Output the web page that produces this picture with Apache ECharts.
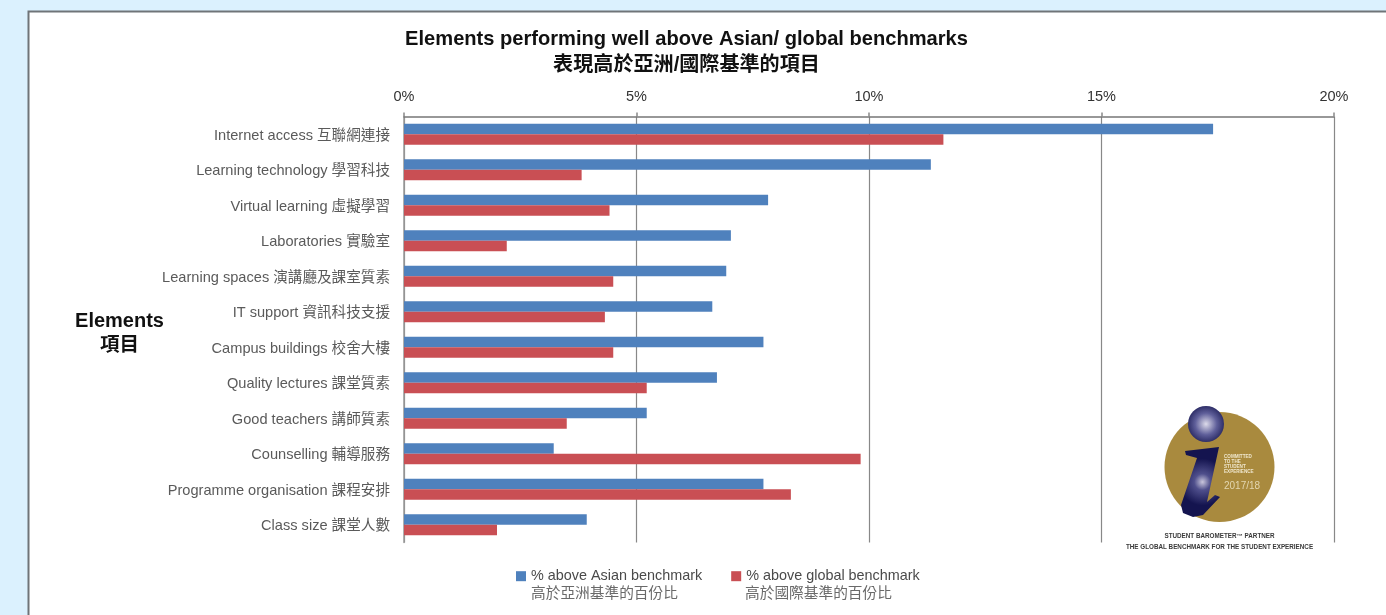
<!DOCTYPE html>
<html><head><meta charset="utf-8">
<style>html,body{margin:0;padding:0;background:#dbf1fe}#c{width:1386px;height:615px}</style>
<script src="https://cdn.jsdelivr.net/npm/echarts@6/dist/echarts.min.js"></script>
</head><body><div id="c"></div>
<script>
const categories = ['Internet access 互聯網連接','Learning technology 學習科技','Virtual learning 虛擬學習','Laboratories 實驗室','Learning spaces 演講廳及課室質素','IT support 資訊科技支援','Campus buildings 校舍大樓','Quality lectures 課堂質素','Good teachers 講師質素','Counselling 輔導服務','Programme organisation 課程安排','Class size 課堂人數'];
const asian = [17.4,11.33,7.83,7.03,6.93,6.63,7.73,6.73,5.22,3.22,7.73,3.93];
const global = [11.6,3.82,4.42,2.21,4.5,4.32,4.5,5.22,3.5,9.82,8.32,2.0];
const asianName = '% above Asian benchmark';
const globalName = '% above global benchmark';
const FONT = '"Liberation Sans","Noto Sans CJK TC",sans-serif';
const chart = echarts.init(document.getElementById('c'));
const t = (x,y,text,font,fill,align) => ({type:'text',z:5,style:{x,y,text,font,fill,align:align||'left',verticalAlign:'middle'}});
chart.setOption({
  animation:false,
  backgroundColor:'#dbf1fe',
  title:{text:'Elements performing well above Asian/ global benchmarks\n表現高於亞洲/國際基準的項目',left:681.5,top:22,textAlign:'center',
    textStyle:{fontFamily:FONT,fontSize:20.1,fontWeight:'bold',color:'#111',lineHeight:25.5}},
  legend:{left:511,top:564,itemWidth:10,itemHeight:10,itemGap:29,icon:'rect',textStyle:{fontFamily:FONT,fontSize:14.4,color:'#4a4a4a'},data:[asianName,globalName]},
  grid:{left:404,top:116.5,width:930,height:426,containLabel:false},
  xAxis:{type:'value',position:'top',min:0,max:20,interval:5,
    axisLine:{show:true,lineStyle:{color:'#777',width:1.5}},
    axisTick:{show:true,length:4,lineStyle:{color:'#888',width:1.5}},
    splitLine:{show:true,lineStyle:{color:'#888',width:1.2}},
    axisLabel:{formatter:'{value}%',margin:12,fontFamily:FONT,fontSize:14.5,color:'#333'}},
  yAxis:{type:'category',inverse:true,data:categories,
    axisLine:{show:true,lineStyle:{color:'#999',width:1.5}},axisTick:{show:false},
    axisLabel:{margin:14,fontFamily:FONT,fontSize:14.6,color:'#5a5a5a',verticalAlign:'top',lineHeight:3}},
  series:[
    {name:asianName,type:'bar',data:asian,barWidth:10.6,barGap:0,itemStyle:{color:'#4f81bd'},z:3},
    {name:globalName,type:'bar',data:global,barWidth:10.6,barGap:0,itemStyle:{color:'#c94f54'},z:3}
  ],
  graphic:[
    {type:'rect',z:-10,shape:{x:28.5,y:11.5,width:1400,height:700},style:{fill:'#fff',stroke:'#6f7478',lineWidth:2}},
    t(119.5,321,'Elements','bold 20px '+FONT,'#111','center'),
    t(119.5,346,'項目','bold 19.5px '+FONT,'#111','center'),
    t(531,593.5,'高於亞洲基準的百份比','14.7px '+FONT,'#6a6a6a'),
    t(745,593.5,'高於國際基準的百份比','14.7px '+FONT,'#6a6a6a'),
    {type:'circle',z:4,shape:{cx:1219.5,cy:467,r:55},style:{fill:'#a98a3e'}},
    {type:'polygon',z:5,shape:{points:[[1185,451],[1219,447],[1207,502],[1215,495],[1220,497],[1203,515],[1193,517],[1183,513],[1181,505],[1197,458],[1186,455]]},
      style:{fill:{type:'radial',x:0.55,y:0.5,r:0.6,colorStops:[{offset:0,color:'#c9c6dc'},{offset:0.35,color:'#4f4f8c'},{offset:1,color:'#14144f'}]}}},
    {type:'circle',z:5,shape:{cx:1206,cy:424,r:18},
      style:{fill:{type:'radial',x:0.5,y:0.5,r:0.6,colorStops:[{offset:0,color:'#dddbea'},{offset:0.5,color:'#5f5f9a'},{offset:1,color:'#16164f'}]}}},
    t(1224,456.5,'COMMITTED','bold 4.6px '+FONT,'#efe6cc'),
    t(1224,461.5,'TO THE','bold 4.6px '+FONT,'#efe6cc'),
    t(1224,466.5,'STUDENT','bold 4.6px '+FONT,'#efe6cc'),
    t(1224,472,'EXPERIENCE','bold 4.6px '+FONT,'#efe6cc'),
    t(1224,486,'2017/18','10px '+FONT,'#e3d6b0'),
    t(1219.5,536,'STUDENT BAROMETER™ PARTNER','bold 6.3px '+FONT,'#3a3a3a','center'),
    t(1219.5,547,'THE GLOBAL BENCHMARK FOR THE STUDENT EXPERIENCE','bold 6.3px '+FONT,'#3a3a3a','center')
  ]
});
</script></body></html>
